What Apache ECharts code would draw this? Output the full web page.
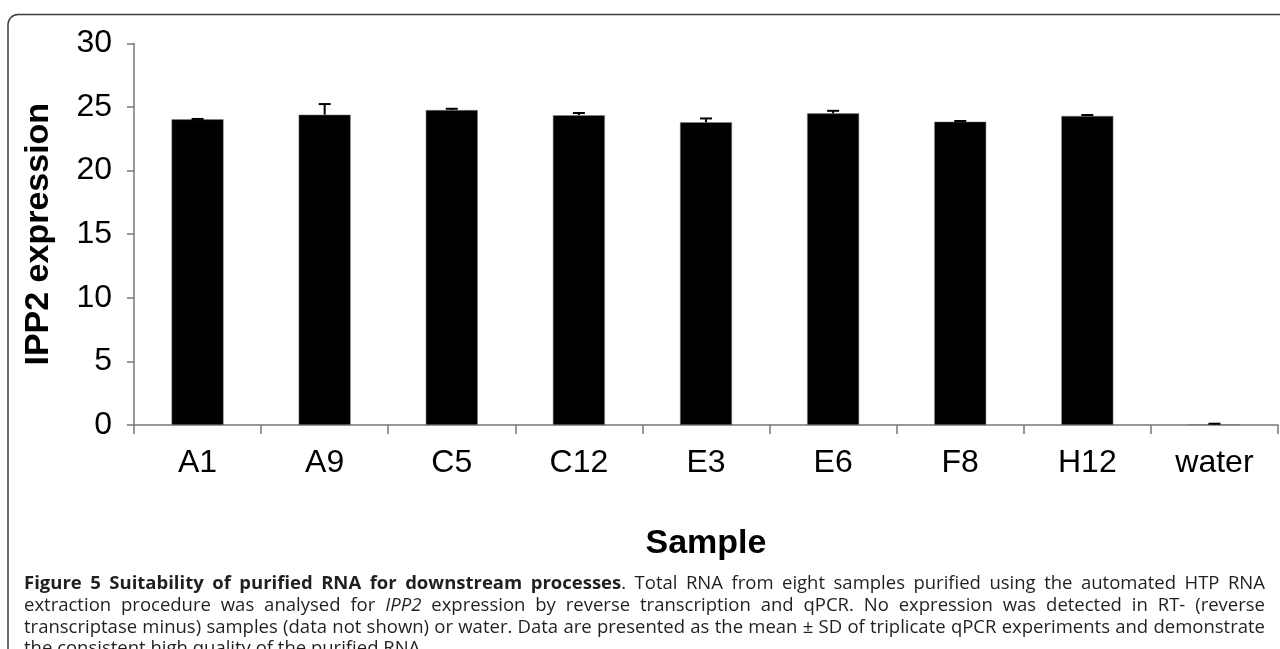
<!DOCTYPE html>
<html>
<head>
<meta charset="utf-8">
<script src="https://cdn.jsdelivr.net/npm/echarts@6/dist/echarts.min.js"></script>
<style>
html,body{margin:0;padding:0;background:#fff;}
#chart{width:1280px;height:649px;}
</style>
</head>
<body>
<div id="chart"></div>
<script>
const categories = ['A1','A9','C5','C12','E3','E6','F8','H12','water'];
const means = [24.03, 24.4, 24.76, 24.35, 23.8, 24.5, 23.85, 24.3, 0.05];
const sds = [0.03, 0.83, 0.1, 0.18, 0.3, 0.2, 0.05, 0.07, 0.05];
const yTicks = [0, 5, 10, 15, 20, 25, 30];

const captionLines = [
  [['Figure 5 Suitability of purified RNA for downstream processes', 'b'], ['. Total RNA from eight samples purified using the automated HTP RNA', 'n']],
  [['extraction procedure was analysed for ', 'n'], ['IPP2', 'i'], [' expression by reverse transcription and qPCR. No expression was detected in RT- (reverse', 'n']],
  [['transcriptase minus) samples (data not shown) or water. Data are presented as the mean ± SD of triplicate qPCR experiments and demonstrate', 'n']],
  [['the consistent high quality of the purified RNA.', 'n']]
];

const chart = echarts.init(document.getElementById('chart'));
const capFont = 'Open Sans';
const capSize = 18.5;
const capColor = '#231f20';
const capRich = {
  b: {fontFamily: capFont, fontSize: capSize, fontWeight: 'bold', fill: capColor},
  n: {fontFamily: capFont, fontSize: capSize, fill: capColor},
  i: {fontFamily: capFont, fontSize: capSize, fontStyle: 'italic', fill: capColor}
};
const cssFont = {
  b: 'bold ' + capSize + 'px "' + capFont + '"',
  n: capSize + 'px "' + capFont + '"',
  i: 'italic ' + capSize + 'px "' + capFont + '"'
};
const measureCtx = document.createElement('canvas').getContext('2d');
function measure(t, s) { measureCtx.font = cssFont[s]; return measureCtx.measureText(t).width; }

const graphics = [{
  type: 'rect',
  shape: {x: 8, y: 14.5, width: 1300, height: 700, r: 10},
  style: {fill: 'none', stroke: '#3c3c3c', lineWidth: 1.5},
  silent: true
}];

const capLeft = 24, capRight = 1265, capTop = 584, capStep = 21.7;
captionLines.forEach((segs, k) => {
  const words = [];
  let cur = [];
  segs.forEach(([t, s]) => {
    t.split(' ').forEach((p, idx) => {
      if (idx > 0) { if (cur.length) words.push(cur); cur = []; }
      if (p) cur.push({t: p, s: s});
    });
  });
  if (cur.length) words.push(cur);
  const widths = words.map(w => w.reduce((a, p) => a + measure(p.t, p.s), 0));
  const total = widths.reduce((a, b) => a + b, 0);
  const justify = k < captionLines.length - 1;
  const gap = justify ? (capRight - capLeft - total) / (words.length - 1) : measure(' ', 'n');
  let x = capLeft;
  words.forEach((w, j) => {
    graphics.push({
      type: 'text', x: x, y: capTop + k * capStep,
      style: {
        text: w.map(p => '{' + p.s + '|' + p.t + '}').join(''),
        rich: capRich, fontFamily: capFont, fontSize: capSize, verticalAlign: 'middle'
      }
    });
    x += widths[j] + gap;
  });
});

chart.setOption({
  animation: false,
  backgroundColor: '#fff',
  graphic: graphics,
  grid: {left: 134, right: 2, top: 43.4, bottom: 224, containLabel: false},
  xAxis: {
    type: 'category',
    data: categories,
    name: 'Sample',
    nameLocation: 'middle',
    nameGap: 102,
    nameTextStyle: {fontFamily: 'Liberation Sans', fontSize: 34, fontWeight: 'bold', color: '#000'},
    axisLine: {lineStyle: {color: '#777', width: 1.5}},
    axisTick: {show: true, length: 9, lineStyle: {color: '#777', width: 1.5}},
    axisLabel: {fontFamily: 'Liberation Sans', fontSize: 32, color: '#000', margin: 22}
  },
  yAxis: {
    type: 'value',
    min: 0, max: 30, interval: 5,
    name: 'IPP2 expression',
    nameLocation: 'middle',
    nameGap: 78,
    nameTextStyle: {fontFamily: 'Liberation Sans', fontSize: 34, fontWeight: 'bold', color: '#000'},
    splitLine: {show: false},
    axisLine: {show: true, lineStyle: {color: '#777', width: 1.5}},
    axisTick: {show: true, length: 7, lineStyle: {color: '#777', width: 1.5}},
    axisLabel: {fontFamily: 'Liberation Sans', fontSize: 32, color: '#000', margin: 22,
      formatter: v => yTicks.includes(v) ? String(v) : ''}
  },
  series: [{
    type: 'bar',
    data: means,
    barWidth: 52,
    itemStyle: {color: '#000', borderColor: '#888', borderWidth: 0.5},
    z: 2
  }, {
    type: 'custom',
    z: 3,
    data: means.map((m, i) => [i, m, m + sds[i]]),
    renderItem: function (params, api) {
      const x = api.value(0);
      const p0 = api.coord([x, api.value(1)]);
      const p1 = api.coord([x, api.value(2)]);
      const hw = 6;
      return {
        type: 'group',
        children: [
          {type: 'line', shape: {x1: p0[0], y1: p0[1], x2: p1[0], y2: p1[1]}, style: {stroke: '#000', lineWidth: 2}},
          {type: 'line', shape: {x1: p1[0] - hw, y1: p1[1], x2: p1[0] + hw, y2: p1[1]}, style: {stroke: '#000', lineWidth: 2}}
        ]
      };
    }
  }]
});
</script>
</body>
</html>
